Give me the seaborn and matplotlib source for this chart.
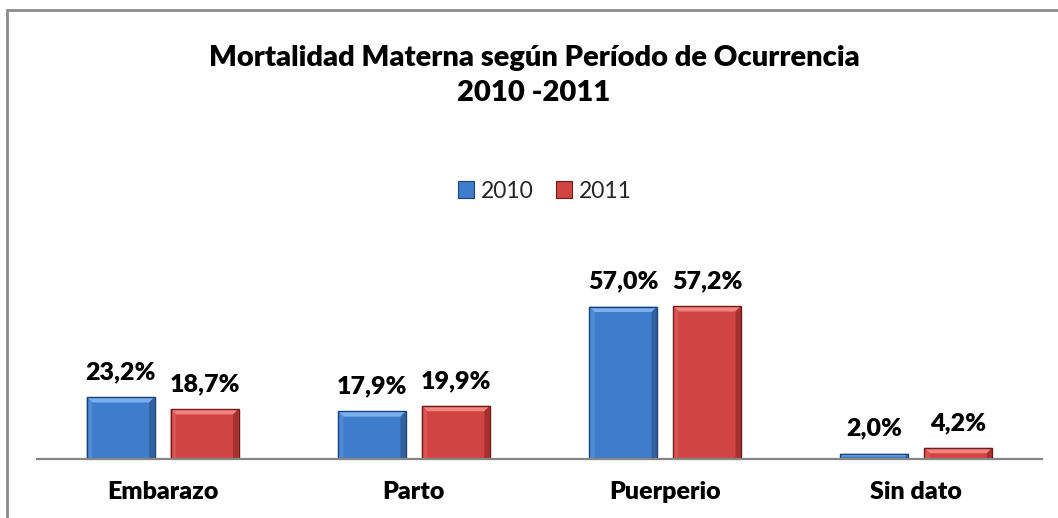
import numpy as np
import pandas as pd
import matplotlib
matplotlib.use("Agg")
import matplotlib.pyplot as plt
import seaborn as sns
from matplotlib.patches import Polygon, Rectangle
from matplotlib.lines import Line2D

categories = ["Embarazo", "Parto", "Puerperio", "Sin dato"]
years = ["2010", "2011"]
values_2010 = [23.2, 17.9, 57.0, 2.0]
values_2011 = [18.7, 19.9, 57.2, 4.2]
title_lines = ["Mortalidad Materna según Período de Ocurrencia", "2010 -2011"]

df = pd.DataFrame({
    "Periodo": categories * 2,
    "Año": [years[0]] * len(categories) + [years[1]] * len(categories),
    "Valor": values_2010 + values_2011,
})

sns.set_theme(style="white")
plt.rcParams['font.family'] = ['Lato', 'DejaVu Sans']
BOLD = "heavy"

W, H = 1058, 518
fig = plt.figure(figsize=(W / 100, H / 100), dpi=100)
ax = fig.add_axes([37 / W, (H - 459) / H, (1042 - 37) / W, (459 - 220) / H])

face = {"2010": "#3F7CCB", "2011": "#D04442"}
light = {"2010": "#7AB0EE", "2011": "#F28480"}
lightside = {"2010": "#4E8AD6", "2011": "#DA5452"}
dark = {"2010": "#30629F", "2011": "#A8302E"}
edge = {"2010": "#1D4375", "2011": "#6E1C1A"}

sns.barplot(data=df, x="Periodo", y="Valor", hue="Año", hue_order=years,
            order=categories, palette=face, width=0.668, gap=0.19,
            ax=ax, legend=False, saturation=1, linewidth=0)

ax.set_xlim(-0.5, len(categories) - 0.5)
ax.set_ylim(0, 239 / 2.675)

for sp in ["left", "top", "right"]:
    ax.spines[sp].set_visible(False)
ax.spines["bottom"].set_color("#868686")
ax.spines["bottom"].set_linewidth(1.6)
ax.spines["bottom"].set_zorder(5)
ax.set_yticks([])
ax.set_xlabel("")
ax.set_ylabel("")
ax.tick_params(axis="x", length=0, pad=16)
for t in ax.get_xticklabels():
    t.set_fontweight(BOLD)
    t.set_fontsize(18)
    t.set_color("black")

# bevel decoration derived from each bar's geometry
fig.canvas.draw()
inv = ax.transData.inverted()
for yr, cont in zip(years, ax.containers):
    for p in cont.patches:
        x0, y0 = p.get_x(), p.get_y()
        x1, y1 = x0 + p.get_width(), y0 + p.get_height()
        (px0, py0), (px1, py1) = ax.transData.transform([(x0, y0), (x1, y1)])
        b = min(5.5, (py1 - py0) / 2.0)
        def poly(pts, c):
            d = inv.transform(pts)
            ax.add_patch(Polygon(d, closed=True, facecolor=c, edgecolor="none", zorder=3))
        poly([(px0, py1), (px1, py1), (px1 - b, py1 - b), (px0 + b, py1 - b)], light[yr])
        poly([(px0, py0), (px0, py1), (px0 + b, py1 - b), (px0 + b, py0)], lightside[yr])
        poly([(px1, py0), (px1, py1), (px1 - b, py1 - b), (px1 - b, py0)], dark[yr])
        ax.add_patch(Rectangle((x0, y0), p.get_width(), p.get_height(), facecolor="none",
                               edgecolor=edge[yr], linewidth=1.0, zorder=4))
    labels = [f"{v:.1f}%".replace(".", ",") for v in cont.datavalues]
    ax.bar_label(cont, labels=labels, padding=10, fontsize=18, fontweight=BOLD, color="black")

# titles
fig.text(534 / W, 1 - 58 / H, title_lines[0], ha="center", va="center",
         fontsize=21, fontweight=BOLD, color="black")
fig.text(534 / W, 1 - 93 / H, title_lines[1], ha="center", va="center",
         fontsize=21, fontweight=BOLD, color="black")

# legend
handles = [Rectangle((0, 0), 1, 1, facecolor=face[y], edgecolor=edge[y], linewidth=0.8) for y in years]
fig.legend(handles, years, loc="center", bbox_to_anchor=(545 / W, 1 - 191 / H), ncol=2,
           frameon=False, fontsize=16.5, handlelength=0.7, handleheight=0.7,
           handletextpad=0.3, columnspacing=1.0)

# chart border (left and top visible)
fig.add_artist(Line2D([7 / W, 7 / W], [0, 1 - 10 / H], transform=fig.transFigure,
                      color="#8C8C8C", linewidth=2))
fig.add_artist(Line2D([7 / W, 1], [1 - 10 / H, 1 - 10 / H], transform=fig.transFigure,
                      color="#8C8C8C", linewidth=2))

fig.savefig("out.png", dpi=100)
